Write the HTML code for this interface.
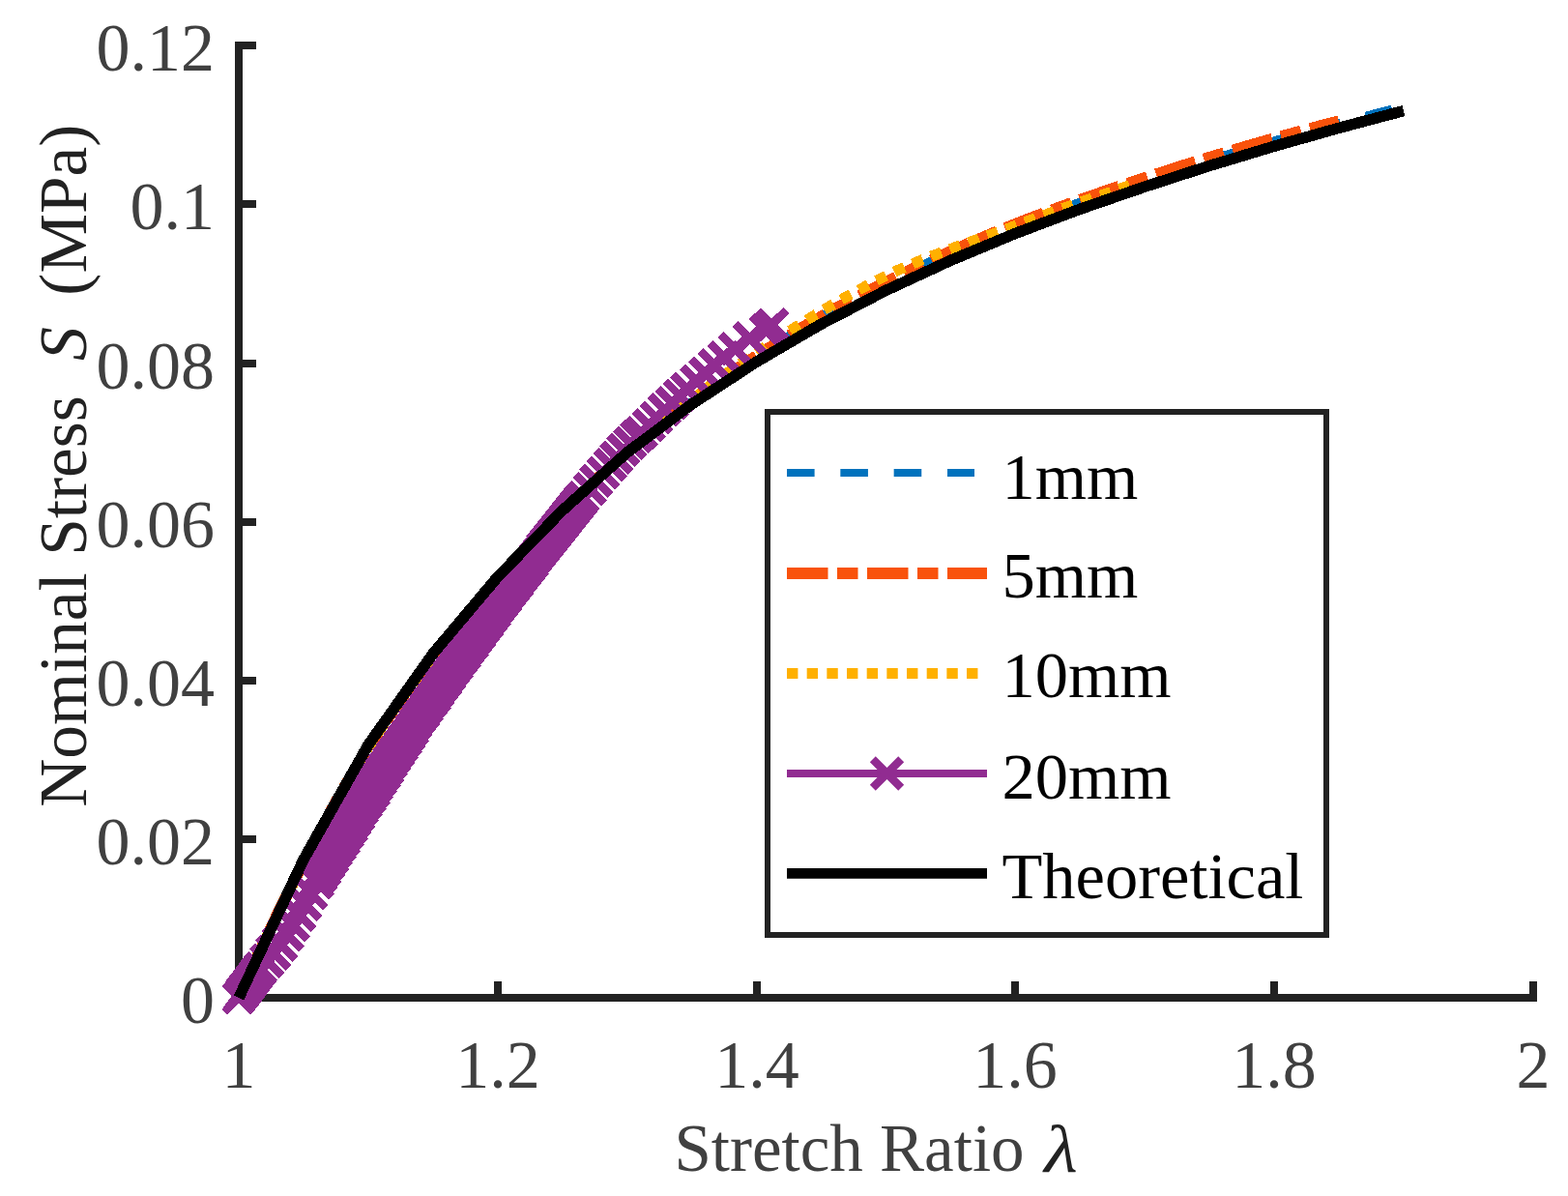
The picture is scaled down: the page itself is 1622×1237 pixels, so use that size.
<!DOCTYPE html>
<html><head><meta charset="utf-8"><style>html,body{margin:0;padding:0;background:#fff;width:1622px;height:1237px;overflow:hidden}svg{display:block}</style></head><body>
<svg width="1622" height="1237" viewBox="0 0 1622 1237">
<rect width="1622" height="1237" fill="#fff"/>
<g fill="#222222">
<rect x="243" y="43" width="8" height="993"/>
<rect x="243" y="1028" width="1347" height="8"/>
<rect x="250" y="43" width="15" height="8"/>
<rect x="250" y="207" width="15" height="8"/>
<rect x="250" y="372" width="15" height="8"/>
<rect x="250" y="536" width="15" height="8"/>
<rect x="250" y="700" width="15" height="8"/>
<rect x="250" y="864" width="15" height="8"/>
<rect x="511" y="1015" width="8" height="14"/>
<rect x="779" y="1015" width="8" height="14"/>
<rect x="1046" y="1015" width="8" height="14"/>
<rect x="1314" y="1015" width="8" height="14"/>
<rect x="1582" y="1015" width="8" height="14"/>
</g>
<g fill="none" stroke-linejoin="miter" stroke-linecap="butt" shape-rendering="crispEdges">
<polyline points="247.0,1032.0 252.0,1020.8 257.0,1009.7 262.0,998.7 267.0,987.9 272.0,977.2 277.0,966.7 282.0,956.2 287.0,945.9 292.0,935.7 297.0,925.6 302.0,915.6 307.0,905.7 312.0,896.0 317.0,886.3 322.0,876.7 327.0,867.2 332.0,857.9 337.0,848.6 342.0,839.5 347.0,830.5 352.0,821.7 357.0,812.9 362.0,804.4 367.0,796.0 372.0,787.7 377.0,779.7 382.0,771.8 387.0,764.0 392.0,756.4 397.0,748.9 402.0,741.6 407.0,734.4 412.0,727.3 417.0,720.3 422.0,713.4 427.0,706.6 432.0,699.9 437.0,693.3 442.0,686.7 447.0,680.3 452.0,673.8 457.0,667.5 462.0,661.3 467.0,655.1 472.0,649.0 477.0,643.0 482.0,637.1 487.0,631.2 492.0,625.4 497.0,619.6 502.0,614.0 507.0,608.4 512.0,602.8 517.0,597.3 522.0,591.8 527.0,586.4 532.0,581.0 537.0,575.7 542.0,570.4 547.0,565.2 552.0,560.0 557.0,554.8 562.0,549.7 567.0,544.7 572.0,539.7 577.0,534.7 582.0,529.7 587.0,524.9 592.0,520.0 597.0,515.2 602.0,510.4 607.0,505.6 611.9,500.9 616.9,496.2 621.9,491.6 626.9,487.1 631.9,482.6 636.9,478.2 641.9,473.8 646.9,469.5 651.9,465.3 656.9,461.1 661.9,457.0 666.9,452.9 671.9,448.9 676.9,444.9 681.9,440.9 686.9,436.9 691.9,433.0 696.9,429.2 701.9,425.3 706.9,421.5 711.9,417.7 716.9,414.0 721.9,410.3 726.9,406.6 731.9,402.9 736.9,399.3 741.9,395.8 746.9,392.2 751.9,388.8 756.9,385.3 761.9,381.9 766.9,378.5 771.9,375.2 776.9,371.9 781.9,368.6 786.9,365.4 791.9,362.2 796.9,359.0 801.9,355.9 806.9,352.7 811.9,349.6 816.9,346.6 821.9,343.5 826.9,340.5 831.9,337.5 836.9,334.5 841.9,331.6 846.9,328.7 851.9,325.8 856.9,322.9 861.9,320.1 866.9,317.3 871.9,314.5 876.9,311.8 881.9,309.1 886.9,306.4 891.9,303.8 896.9,301.2 901.9,298.6 906.9,296.1 911.9,293.6 916.9,291.1 921.9,288.7 926.9,286.3 931.9,283.9 936.9,281.6 941.9,279.2 946.9,276.9 951.9,274.6 956.9,272.4 961.9,270.1 966.9,267.9 971.9,265.7 976.9,263.5 981.9,261.4 986.9,259.2 991.9,257.1 996.9,255.0 1001.9,252.9 1006.9,250.8 1011.9,248.7 1016.9,246.7 1021.9,244.7 1026.9,242.7 1031.9,240.7 1036.9,238.7 1041.9,236.7 1046.9,234.8 1051.9,232.8 1056.9,230.9 1061.9,229.0 1066.9,227.1 1071.9,225.2 1076.9,223.3 1081.9,221.5 1086.9,219.6 1091.9,217.8 1096.9,216.0 1101.9,214.2 1106.9,212.4 1111.9,210.6 1116.9,208.9 1121.9,207.1 1126.9,205.4 1131.9,203.6 1136.9,201.9 1141.9,200.2 1146.9,198.5 1151.9,196.9 1156.9,195.2 1161.9,193.5 1166.9,191.9 1171.9,190.2 1176.9,188.6 1181.9,186.9 1186.9,185.3 1191.9,183.7 1196.9,182.1 1201.9,180.4 1206.9,178.8 1211.9,177.2 1216.9,175.7 1221.9,174.1 1226.9,172.5 1231.9,170.9 1236.9,169.4 1241.9,167.8 1246.9,166.3 1251.9,164.8 1256.9,163.3 1261.9,161.7 1266.9,160.2 1271.9,158.8 1276.9,157.3 1281.9,155.8 1286.9,154.3 1291.9,152.9 1296.9,151.4 1301.9,150.0 1306.9,148.5 1311.9,147.1 1316.9,145.7 1321.9,144.2 1326.9,142.8 1331.8,141.4 1336.8,140.0 1341.8,138.6 1346.8,137.2 1351.8,135.9 1356.8,134.5 1361.8,133.1 1366.8,131.8 1371.8,130.4 1376.8,129.1 1381.8,127.7 1386.8,126.4 1391.8,125.1 1396.8,123.8 1401.8,122.4 1406.8,121.1 1411.8,119.9 1416.8,118.6 1421.8,117.3 1426.8,116.0 1431.8,114.7 1436.8,113.5 1441.8,112.2" stroke="#0072bd" stroke-width="8" stroke-dasharray="28.6 26.73" stroke-dashoffset="3.16"/>
<polyline points="247.0,1032.0 251.8,1021.3 256.5,1010.7 261.3,1000.3 266.0,990.0 270.8,979.8 275.6,969.7 280.3,959.7 285.1,949.8 289.9,940.0 294.6,930.4 299.4,920.8 304.1,911.4 308.9,902.0 313.7,892.7 318.4,883.5 323.2,874.4 327.9,865.4 332.7,856.5 337.5,847.8 342.2,839.1 347.0,830.5 351.7,822.1 356.5,813.8 361.3,805.6 366.0,797.6 370.8,789.7 375.6,781.9 380.3,774.4 385.1,766.9 389.8,759.6 394.6,752.5 399.4,745.4 404.1,738.5 408.9,731.7 413.6,725.0 418.4,718.3 423.2,711.8 427.9,705.3 432.7,699.0 437.4,692.7 442.2,686.4 447.0,680.3 451.7,674.1 456.5,668.1 461.3,662.2 466.0,656.3 470.8,650.5 475.5,644.7 480.3,639.0 485.1,633.4 489.8,627.9 494.6,622.4 499.3,616.9 504.1,611.6 508.9,606.2 513.6,600.9 518.4,595.7 523.2,590.5 527.9,585.4 532.7,580.3 537.4,575.2 542.2,570.2 547.0,565.2 551.7,560.2 556.5,555.3 561.2,550.5 566.0,545.6 570.8,540.8 575.5,536.1 580.3,531.4 585.0,526.7 589.8,522.1 594.6,517.4 599.3,512.9 604.1,508.3 608.9,503.8 613.6,499.3 618.4,494.9 623.1,490.5 627.9,486.2 632.7,481.9 637.4,477.7 642.2,473.6 646.9,469.5 651.7,465.5 656.5,461.5 661.2,457.6 666.0,453.7 670.8,449.8 675.5,446.0 680.3,442.2 685.0,438.4 689.8,434.7 694.6,431.0 699.3,427.3 704.1,423.7 708.8,420.0 713.6,416.4 718.4,412.9 723.1,409.3 727.9,405.8 732.6,402.4 737.4,398.9 742.2,395.5 746.9,392.2 751.7,388.9 756.5,385.6 761.2,382.3 766.0,379.1 770.7,375.9 775.5,372.8 780.3,369.7 785.0,366.7 789.8,363.6 794.5,360.6 799.3,357.6 804.1,354.7 808.8,351.7 813.6,348.8 818.3,345.9 823.1,343.1 827.9,340.2 832.6,337.4 837.4,334.6 842.2,331.9 846.9,329.1 851.7,326.4 856.4,323.7 861.2,321.1 866.0,318.4 870.7,315.8 875.5,313.2 880.2,310.6 885.0,308.1 889.8,305.6 894.5,303.1 899.3,300.6 904.1,298.1 908.8,295.7 913.6,293.3 918.3,290.9 923.1,288.5 927.9,286.2 932.6,283.9 937.4,281.6 942.1,279.3 946.9,277.0 951.7,274.7 956.4,272.5 961.2,270.3 965.9,268.1 970.7,265.9 975.5,263.7 980.2,261.6 985.0,259.4 989.8,257.3 994.5,255.2 999.3,253.1 1004.0,251.1 1008.8,249.0 1013.6,247.0 1018.3,245.0 1023.1,243.0 1027.8,241.0 1032.6,239.1 1037.4,237.1 1042.1,235.2 1046.9,233.3 1051.7,231.4 1056.4,229.5 1061.2,227.7 1065.9,225.8 1070.7,224.0 1075.5,222.2 1080.2,220.4 1085.0,218.6 1089.7,216.9 1094.5,215.1 1099.3,213.4 1104.0,211.6 1108.8,209.9 1113.5,208.2 1118.3,206.5 1123.1,204.8 1127.8,203.2 1132.6,201.5 1137.4,199.9 1142.1,198.2 1146.9,196.6 1151.6,195.0 1156.4,193.4 1161.2,191.8 1165.9,190.2 1170.7,188.6 1175.4,187.1 1180.2,185.5 1185.0,183.9 1189.7,182.4 1194.5,180.8 1199.2,179.3 1204.0,177.7 1208.8,176.2 1213.5,174.7 1218.3,173.1 1223.1,171.6 1227.8,170.1 1232.6,168.6 1237.3,167.2 1242.1,165.7 1246.9,164.2 1251.6,162.8 1256.4,161.3 1261.1,159.9 1265.9,158.5 1270.7,157.0 1275.4,155.6 1280.2,154.2 1285.0,152.8 1289.7,151.4 1294.5,150.0 1299.2,148.7 1304.0,147.3 1308.8,145.9 1313.5,144.6 1318.3,143.3 1323.0,141.9 1327.8,140.6 1332.6,139.3 1337.3,138.0 1342.1,136.7 1346.8,135.4 1351.6,134.1 1356.4,132.8 1361.1,131.6 1365.9,130.3 1370.7,129.1 1375.4,127.8 1380.2,126.6 1384.9,125.4" stroke="#f9520b" stroke-width="12" stroke-dasharray="42.5 9.5 21.5 9.5" stroke-dashoffset="6.55"/>
<polyline points="247.0,1032.0 250.9,1023.3 254.7,1014.7 258.6,1006.2 262.5,997.7 266.3,989.4 270.2,981.1 274.1,972.9 277.9,964.7 281.8,956.7 285.7,948.7 289.5,940.7 293.4,932.9 297.2,925.1 301.1,917.4 305.0,909.7 308.8,902.1 312.7,894.6 316.6,887.1 320.4,879.7 324.3,872.3 328.2,865.0 332.0,857.8 335.9,850.6 339.8,843.6 343.6,836.5 347.5,829.6 351.4,822.8 355.2,816.0 359.1,809.3 363.0,802.7 366.8,796.3 370.7,789.9 374.5,783.6 378.4,777.4 382.3,771.3 386.1,765.3 390.0,759.4 393.9,753.6 397.7,747.8 401.6,742.2 405.5,736.6 409.3,731.0 413.2,725.6 417.1,720.2 420.9,714.9 424.8,709.6 428.7,704.4 432.5,699.2 436.4,694.1 440.3,689.0 444.1,684.0 448.0,679.0 451.8,674.0 455.7,669.1 459.6,664.2 463.4,659.4 467.3,654.7 471.2,650.0 475.0,645.3 478.9,640.7 482.8,636.1 486.6,631.6 490.5,627.1 494.4,622.6 498.2,618.2 502.1,613.8 506.0,609.5 509.8,605.2 513.7,600.9 517.6,596.6 521.4,592.4 525.3,588.2 529.1,584.1 533.0,579.9 536.9,575.8 540.7,571.7 544.6,567.7 548.5,563.6 552.3,559.6 556.2,555.7 560.1,551.7 563.9,547.8 567.8,543.9 571.7,540.0 575.5,536.2 579.4,532.3 583.3,528.5 587.1,524.8 591.0,521.0 594.9,517.3 598.7,513.5 602.6,509.8 606.4,506.2 610.3,502.5 614.2,498.9 618.0,495.3 621.9,491.7 625.8,488.2 629.6,484.7 633.5,481.3 637.4,477.8 641.2,474.4 645.1,471.1 649.0,467.8 652.8,464.5 656.7,461.3 660.6,458.0 664.4,454.8 668.3,451.6 672.2,448.4 676.0,445.2 679.9,442.1 683.7,438.9 687.6,435.8 691.5,432.7 695.3,429.6 699.2,426.5 703.1,423.4 706.9,420.4 710.8,417.3 714.7,414.3 718.5,411.3 722.4,408.3 726.3,405.3 730.1,402.3 734.0,399.4 737.9,396.5 741.7,393.6 745.6,390.7 749.5,387.9 753.3,385.1 757.2,382.3 761.0,379.6 764.9,376.8 768.8,374.1 772.6,371.5 776.5,368.8 780.4,366.2 784.2,363.6 788.1,361.0 792.0,358.5 795.8,355.9 799.7,353.4 803.6,350.9 807.4,348.3 811.3,345.8 815.2,343.4 819.0,340.9 822.9,338.4 826.8,336.0 830.6,333.6 834.5,331.2 838.3,328.8 842.2,326.4 846.1,324.1 849.9,321.8 853.8,319.5 857.7,317.2 861.5,314.9 865.4,312.7 869.3,310.5 873.1,308.3 877.0,306.1 880.9,304.0 884.7,301.8 888.6,299.7 892.5,297.7 896.3,295.6 900.2,293.6 904.1,291.6 907.9,289.6 911.8,287.7 915.6,285.8 919.5,283.9 923.4,282.0 927.2,280.2 931.1,278.5 935.0,276.7 938.8,275.1 942.7,273.4 946.6,271.8 950.4,270.2 954.3,268.6 958.2,267.1 962.0,265.6 965.9,264.1 969.8,262.6 973.6,261.1 977.5,259.7 981.4,258.3 985.2,256.8 989.1,255.4 992.9,254.0 996.8,252.7 1000.7,251.3 1004.5,249.9 1008.4,248.5 1012.3,247.2 1016.1,245.8 1020.0,244.4 1023.9,243.1 1027.7,241.7 1031.6,240.3 1035.5,238.9 1039.3,237.5 1043.2,236.1 1047.1,234.7 1050.9,233.2 1054.8,231.8 1058.7,230.3 1062.5,228.9 1066.4,227.5 1070.2,226.1 1074.1,224.7 1078.0,223.3 1081.8,221.9 1085.7,220.5 1089.6,219.1 1093.4,217.7 1097.3,216.4 1101.2,215.0 1105.0,213.6 1108.9,212.3 1112.8,210.9 1116.6,209.6 1120.5,208.3 1124.4,206.9 1128.2,205.6 1132.1,204.3 1136.0,202.9 1139.8,201.6 1143.7,200.3 1147.5,199.0 1151.4,197.7 1155.3,196.4 1159.1,195.1 1163.0,193.8 1166.9,192.5 1170.7,191.2" stroke="#ffb000" stroke-width="11" stroke-dasharray="11.4 9.27" stroke-dashoffset="20.65"/>
<polyline points="247.0,1032.0 249.8,1028.3 252.5,1024.6 255.3,1020.9 258.1,1017.1 260.9,1013.4 263.6,1009.6 266.4,1005.8 269.2,1002.0 271.9,998.2 274.7,994.4 277.5,990.6 280.3,986.8 283.0,982.7 285.8,978.4 288.6,973.9 291.3,969.2 294.1,964.5 296.9,959.9 299.7,955.3 302.4,950.7 305.2,946.0 308.0,941.1 310.7,936.2 313.5,931.1 316.3,926.0 319.1,921.0 321.8,915.9 324.6,911.0 327.4,906.3 330.2,901.6 332.9,897.0 335.7,892.4 338.5,887.9 341.2,883.4 344.0,879.0 346.8,874.5 349.6,870.0 352.3,865.5 355.1,861.0 357.9,856.4 360.6,851.9 363.4,847.4 366.2,842.9 369.0,838.4 371.7,834.0 374.5,829.6 377.3,825.3 380.0,821.1 382.8,816.9 385.6,812.7 388.4,808.5 391.1,804.4 393.9,800.3 396.7,796.2 399.4,792.1 402.2,788.1 405.0,784.1 407.8,780.0 410.5,776.0 413.3,772.0 416.1,768.0 418.8,764.1 421.6,760.1 424.4,756.1 427.2,752.1 429.9,748.1 432.7,744.1 435.5,740.1 438.2,736.2 441.0,732.2 443.8,728.2 446.6,724.3 449.3,720.3 452.1,716.3 454.9,712.4 457.6,708.5 460.4,704.5 463.2,700.6 466.0,696.7 468.7,692.7 471.5,688.8 474.3,684.9 477.0,681.0 479.8,677.2 482.6,673.3 485.4,669.4 488.1,665.6 490.9,661.7 493.7,657.9 496.5,654.0 499.2,650.2 502.0,646.4 504.8,642.6 507.5,638.8 510.3,635.0 513.1,631.2 515.9,627.5 518.6,623.7 521.4,620.0 524.2,616.2 526.9,612.5 529.7,608.8 532.5,605.1 535.3,601.4 538.0,597.7 540.8,594.0 543.6,590.3 546.3,586.6 549.1,583.0 551.9,579.4 554.7,575.7 557.4,572.1 560.2,568.5 563.0,565.0 565.7,561.4 568.5,557.9 571.3,554.4 574.1,550.9 576.8,547.4 579.6,543.9 582.4,540.4 585.1,536.9 587.9,533.4 590.7,529.9 593.5,526.4 596.2,523.0 599.0,519.5 601.8,516.0 604.5,512.6 607.3,509.2 610.1,505.8 612.9,502.4 615.6,499.0 618.4,495.7 621.2,492.4 623.9,489.1 626.7,485.8 629.5,482.6 632.3,479.4 635.0,476.3 637.8,473.2 640.6,470.1 643.4,467.1 646.1,464.2 648.9,461.2 651.7,458.4 654.4,455.8 657.2,453.1 660.0,450.5 662.8,447.9 665.5,445.2 668.3,442.5 671.1,439.8 673.8,437.1 676.6,434.3 679.4,431.6 682.2,428.9 684.9,426.2 687.7,423.6 690.5,420.9 693.2,418.3 696.0,415.8 698.8,413.2 701.6,410.7 704.3,408.2 707.1,405.8 709.9,403.3 712.6,400.9 715.4,398.5 718.2,396.1 721.0,393.7 723.7,391.3 726.5,388.9 729.3,386.5 732.0,384.2 734.8,381.8 737.6,379.4 740.4,377.1 743.1,374.7 745.9,372.4 748.7,370.1 751.4,367.8 754.2,365.5 757.0,363.3 759.8,361.2 762.5,359.0 765.3,356.9 768.1,354.8 770.8,352.8 773.6,350.9 776.4,349.3 779.2,347.9 781.9,346.7 784.7,345.5 787.5,344.3 790.2,342.8 793.0,341.1 795.8,338.7 798.6,335.9" stroke="#912c91" stroke-width="8"/>
<path d="M232.3 1017.3L261.7 1046.7M232.3 1046.7L261.7 1017.3M233.9 1015.2L263.3 1044.6M233.9 1044.6L263.3 1015.2M235.5 1013.0L264.9 1042.4M235.5 1042.4L264.9 1013.0M237.1 1010.9L266.5 1040.3M237.1 1040.3L266.5 1010.9M238.7 1008.7L268.1 1038.1M238.7 1038.1L268.1 1008.7M240.3 1006.5L269.7 1035.9M240.3 1035.9L269.7 1006.5M241.9 1004.4L271.3 1033.8M241.9 1033.8L271.3 1004.4M243.5 1002.2L272.9 1031.6M243.5 1031.6L272.9 1002.2M245.2 1000.0L274.6 1029.4M245.2 1029.4L274.6 1000.0M246.8 997.8L276.2 1027.2M246.8 1027.2L276.2 997.8M248.4 995.7L277.8 1025.1M248.4 1025.1L277.8 995.7M250.0 993.5L279.4 1022.9M250.0 1022.9L279.4 993.5M251.6 991.3L281.0 1020.7M251.6 1020.7L281.0 991.3M253.2 989.1L282.6 1018.5M253.2 1018.5L282.6 989.1M254.8 986.8L284.3 1016.3M254.8 1016.3L284.3 986.8M261.0 978.4L291.5 1008.8M261.0 1008.8L291.5 978.4M267.3 969.6L298.7 1001.0M267.3 1001.0L298.7 969.6M273.6 959.8L305.9 992.1M273.6 992.1L305.9 959.8M279.7 949.4L312.0 981.7M279.7 981.7L312.0 949.4M285.9 939.2L318.2 971.5M285.9 971.5L318.2 939.2M292.1 928.7L324.4 961.0M292.1 961.0L324.4 928.7M298.2 917.6L330.5 949.9M298.2 949.9L330.5 917.6M304.4 906.4L336.7 938.7M304.4 938.7L336.7 906.4M310.5 895.4L342.8 927.7M310.5 927.7L342.8 895.4M314.4 888.8L346.7 921.1M314.4 921.1L346.7 888.8M318.3 882.3L350.6 914.6M318.3 914.6L350.6 882.3M322.2 875.9L354.5 908.2M322.2 908.2L354.5 875.9M326.0 869.6L358.3 901.9M326.0 901.9L358.3 869.6M329.9 863.4L362.2 895.7M329.9 895.7L362.2 863.4M333.8 857.1L366.1 889.4M333.8 889.4L366.1 857.1M337.7 850.8L370.0 883.1M337.7 883.1L370.0 850.8M341.6 844.4L373.9 876.7M341.6 876.7L373.9 844.4M345.5 838.1L377.8 870.4M345.5 870.4L377.8 838.1M349.3 831.7L381.6 864.0M349.3 864.0L381.6 831.7M353.2 825.5L385.5 857.8M353.2 857.8L385.5 825.5M357.1 819.3L389.4 851.6M357.1 851.6L389.4 819.3M361.0 813.2L393.3 845.5M361.0 845.5L393.3 813.2M364.8 807.2L397.1 839.5M364.8 839.5L397.1 807.2M368.7 801.3L400.9 833.5M368.7 833.5L400.9 801.3M372.6 795.5L404.5 827.5M372.6 827.5L404.5 795.5M376.4 789.7L408.2 821.5M376.4 821.5L408.2 789.7M380.3 784.0L411.8 815.6M380.3 815.6L411.8 784.0M384.1 778.3L415.5 809.7M384.1 809.7L415.5 778.3M388.0 772.7L419.1 803.8M388.0 803.8L419.1 772.7M391.9 767.1L422.8 798.0M391.9 798.0L422.8 767.1M395.7 761.5L426.4 792.2M395.7 792.2L426.4 761.5M399.6 755.9L430.1 786.4M399.6 786.4L430.1 755.9M403.5 750.4L433.7 780.6M403.5 780.6L433.7 750.4M407.3 744.8L437.4 774.9M407.3 774.9L437.4 744.8M411.2 739.2L441.1 769.1M411.2 769.1L441.1 739.2M415.1 733.7L444.7 763.3M415.1 763.3L444.7 733.7M418.9 728.1L448.4 757.5M418.9 757.5L448.4 728.1M422.8 722.5L452.2 751.9M422.8 751.9L452.2 722.5M426.7 717.0L456.1 746.4M426.7 746.4L456.1 717.0M430.6 711.4L460.0 740.8M430.6 740.8L460.0 711.4M434.5 705.9L463.9 735.3M434.5 735.3L463.9 705.9M438.3 700.3L467.7 729.7M438.3 729.7L467.7 700.3M442.2 694.8L471.6 724.2M442.2 724.2L471.6 694.8M446.1 689.3L475.5 718.7M446.1 718.7L475.5 689.3M450.0 683.8L479.4 713.2M450.0 713.2L479.4 683.8M453.9 678.3L483.3 707.7M453.9 707.7L483.3 678.3M457.7 672.8L487.1 702.2M457.7 702.2L487.1 672.8M461.6 667.4L491.0 696.8M461.6 696.8L491.0 667.4M465.5 661.9L494.9 691.3M465.5 691.3L494.9 661.9M469.4 656.5L498.8 685.9M469.4 685.9L498.8 656.5M473.3 651.1L502.7 680.5M473.3 680.5L502.7 651.1M477.2 645.7L506.6 675.1M477.2 675.1L506.6 645.7M481.0 640.3L510.4 669.7M481.0 669.7L510.4 640.3M484.9 635.0L514.3 664.4M484.9 664.4L514.3 635.0M488.8 629.6L518.2 659.0M488.8 659.0L518.2 629.6M492.7 624.3L522.1 653.7M492.7 653.7L522.1 624.3M496.6 619.0L526.0 648.4M496.6 648.4L526.0 619.0M500.5 613.7L529.9 643.1M500.5 643.1L529.9 613.7M504.3 608.5L533.7 637.9M504.3 637.9L533.7 608.5M508.2 603.2L537.6 632.6M508.2 632.6L537.6 603.2M512.1 598.0L541.5 627.4M512.1 627.4L541.5 598.0M516.0 592.8L545.4 622.2M516.0 622.2L545.4 592.8M519.9 587.6L549.3 617.0M519.9 617.0L549.3 587.6M523.7 582.4L553.1 611.8M523.7 611.8L553.1 582.4M527.6 577.2L557.0 606.6M527.6 606.6L557.0 577.2M531.5 572.1L560.9 601.5M531.5 601.5L560.9 572.1M535.4 567.0L564.8 596.4M535.4 596.4L564.8 567.0M539.3 561.9L568.7 591.3M539.3 591.3L568.7 561.9M543.2 556.9L572.6 586.3M543.2 586.3L572.6 556.9M547.0 551.9L576.4 581.3M547.0 581.3L576.4 551.9M550.9 546.9L580.3 576.3M550.9 576.3L580.3 546.9M554.8 541.9L584.2 571.3M554.8 571.3L584.2 541.9M558.7 537.0L588.1 566.4M558.7 566.4L588.1 537.0M562.6 532.1L592.0 561.5M562.6 561.5L592.0 532.1M566.5 527.2L595.9 556.6M566.5 556.6L595.9 527.2M570.3 522.3L599.7 551.7M570.3 551.7L599.7 522.3M574.2 517.5L603.6 546.9M574.2 546.9L603.6 517.5M578.1 512.6L607.5 542.0M578.1 542.0L607.5 512.6M582.0 507.7L611.4 537.1M582.0 537.1L611.4 507.7M585.9 502.8L615.3 532.2M585.9 532.2L615.3 502.8M588.4 499.7L617.8 529.1M588.4 529.1L617.8 499.7M595.4 491.1L624.8 520.5M595.4 520.5L624.8 491.1M602.3 482.6L631.7 512.0M602.3 512.0L631.7 482.6M609.3 474.3L638.7 503.7M609.3 503.7L638.7 474.3M616.3 466.2L645.7 495.6M616.3 495.6L645.7 466.2M623.2 458.4L652.6 487.8M623.2 487.8L652.6 458.4M630.2 450.8L659.6 480.2M630.2 480.2L659.6 450.8M637.1 443.6L666.5 473.0M637.1 473.0L666.5 443.6M644.1 436.9L673.5 466.3M644.1 466.3L673.5 436.9M648.4 432.9L677.8 462.3M648.4 462.3L677.8 432.9M656.4 425.0L685.8 454.4M656.4 454.4L685.8 425.0M664.3 417.3L693.7 446.7M664.3 446.7L693.7 417.3M672.5 409.4L701.9 438.8M672.5 438.8L701.9 409.4M680.6 401.7L710.0 431.1M680.6 431.1L710.0 401.7M688.5 394.5L717.9 423.9M688.5 423.9L717.9 394.5M696.4 387.5L725.8 416.9M696.4 416.9L725.8 387.5M705.8 379.3L735.2 408.7M705.8 408.7L735.2 379.3M715.2 371.3L744.6 400.7M715.2 400.7L744.6 371.3M724.8 363.1L754.2 392.5M724.8 392.5L754.2 363.1M734.5 355.0L763.9 384.4M734.5 384.4L763.9 355.0M745.8 345.9L775.2 375.3M745.8 375.3L775.2 345.9M760.6 335.2L790.0 364.6M760.6 364.6L790.0 335.2M777.4 327.0L806.8 356.4M777.4 356.4L806.8 327.0M783.9 321.2L813.3 350.6M783.9 350.6L813.3 321.2" stroke="#912c91" stroke-width="8.4"/>
<polyline points="247.0,1032.0 313.9,889.2 380.9,770.5 447.8,676.2 514.8,596.7 581.7,528.0 648.6,468.1 715.6,418.0 782.5,374.3 849.4,335.2 916.4,300.4 983.3,269.4 1050.2,241.5 1117.2,216.3 1184.1,193.2 1251.1,171.5 1318.0,151.3 1384.9,132.4 1451.9,114.6" stroke="#000" stroke-width="11.5"/>
</g>
<rect x="794" y="426" width="578" height="541" fill="#fff" stroke="#222222" stroke-width="6"/>
<g fill="none" stroke-linecap="butt">
<line x1="814" y1="489" x2="1008" y2="489" stroke="#0072bd" stroke-width="8" stroke-dasharray="28.6 26.73"/>
<line x1="814" y1="593" x2="1021" y2="593" stroke="#f9520b" stroke-width="12" stroke-dasharray="42.5 9.5 21.5 9.5"/>
<line x1="814" y1="696.5" x2="1012" y2="696.5" stroke="#ffb000" stroke-width="11" stroke-dasharray="11.4 9.27"/>
<line x1="814" y1="800" x2="1021" y2="800" stroke="#912c91" stroke-width="8"/>
<path d="M902.8 785.3L932.2 814.7M902.8 814.7L932.2 785.3" stroke="#912c91" stroke-width="8.4"/>
<line x1="814" y1="903.4" x2="1021" y2="903.4" stroke="#000" stroke-width="10.75"/>
</g>
<g style="font-family:'Liberation Serif',serif" font-size="68.5" fill="#000">
<text x="1036.5" y="515.6">1mm</text>
<text x="1036.5" y="618.4">5mm</text>
<text x="1036.5" y="721.2">10mm</text>
<text x="1036.5" y="825.8">20mm</text>
<text x="1036.5" y="929">Theoretical</text>
</g>
<g style="font-family:'Liberation Serif',serif" font-size="70" fill="#404040">
<text x="221.9" y="1057.8" text-anchor="end">0</text>
<text x="221.9" y="893.8" text-anchor="end">0.02</text>
<text x="221.9" y="729.8" text-anchor="end">0.04</text>
<text x="221.9" y="565.8" text-anchor="end">0.06</text>
<text x="221.9" y="401.8" text-anchor="end">0.08</text>
<text x="221.9" y="236.8" text-anchor="end">0.1</text>
<text x="221.9" y="72.8" text-anchor="end">0.12</text>
<text x="247.0" y="1125.4" text-anchor="middle">1</text>
<text x="515.0" y="1125.4" text-anchor="middle">1.2</text>
<text x="783.0" y="1125.4" text-anchor="middle">1.4</text>
<text x="1050.0" y="1125.4" text-anchor="middle">1.6</text>
<text x="1318.0" y="1125.4" text-anchor="middle">1.8</text>
<text x="1586.0" y="1125.4" text-anchor="middle">2</text>
</g>
<text style="font-family:'Liberation Serif',serif" font-size="69" fill="#404040" x="697.4" y="1210.5">Stretch Ratio</text>
<text style="font-family:'Liberation Serif',serif" font-size="70" fill="#222222" font-style="italic" transform="translate(1097.5 1211.5) scale(1.14 1)" text-anchor="middle">λ</text>
<g style="font-family:'Liberation Serif',serif" fill="#222222" font-size="69.3">
<text transform="translate(88.8 834.7) rotate(-90)">Nominal Stress</text>
<text transform="translate(88.8 373) rotate(-90)" font-style="italic" font-size="70">S</text>
<text transform="translate(88.8 305.7) rotate(-90)">(MPa)</text>
</g>
</svg>
</body></html>
